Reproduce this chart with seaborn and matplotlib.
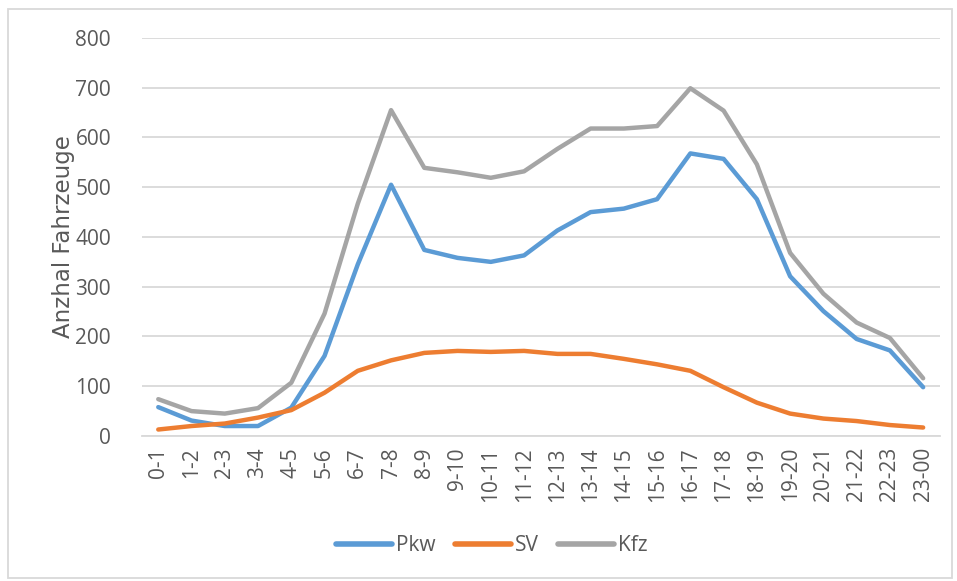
import pandas as pd
import seaborn as sns
import matplotlib.pyplot as plt
from matplotlib.patches import Rectangle

hours = ["0-1", "1-2", "2-3", "3-4", "4-5", "5-6", "6-7", "7-8", "8-9", "9-10",
         "10-11", "11-12", "12-13", "13-14", "14-15", "15-16", "16-17", "17-18",
         "18-19", "19-20", "20-21", "21-22", "22-23", "23-00"]
pkw = [58, 31, 20, 20, 57, 161, 345, 505, 374, 358, 350, 363, 413, 450, 457, 476,
       568, 557, 476, 321, 251, 195, 172, 98]
sv = [13, 20, 25, 37, 52, 87, 131, 152, 167, 171, 169, 171, 165, 165, 155, 144,
      131, 98, 67, 45, 35, 30, 22, 17]
kfz = [74, 50, 45, 56, 107, 246, 467, 655, 539, 530, 519, 532, 577, 618, 618, 623,
       699, 654, 546, 368, 286, 228, 197, 116]

df = pd.DataFrame({"pos": range(len(hours)), "Pkw": pkw, "SV": sv, "Kfz": kfz})
long = df.melt(id_vars="pos", var_name="Serie", value_name="Anzahl")

sns.set_style("white")
plt.rcParams["font.family"] = ["Open Sans", "DejaVu Sans"]

fig = plt.figure(figsize=(9.57, 5.81), dpi=100)
ax = fig.add_axes([0.148, 0.2496, 0.834, 0.685])

palette = {"Pkw": "#5B9BD5", "SV": "#ED7D31", "Kfz": "#A5A5A5"}
sns.lineplot(data=long, x="pos", y="Anzahl", hue="Serie", palette=palette,
             linewidth=3.2, ax=ax, legend=True)
for line in ax.get_lines():
    line.set_solid_capstyle("round")
    line.set_solid_joinstyle("round")

ax.set_xlim(-0.5, len(hours) - 0.5)
ax.set_ylim(0, 800)
ax.set_yticks(range(0, 801, 100))
ax.set_xticks(range(len(hours)))
ax.set_xticklabels(hours, rotation=90)
ax.tick_params(axis="both", colors="#595959", labelsize=15, length=0)
ax.tick_params(axis="y", pad=22)
ax.tick_params(axis="x", pad=8)
ax.yaxis.grid(True, color="#D9D9D9", linewidth=1.3)
ax.set_axisbelow(True)
for s in ["top", "right", "left"]:
    ax.spines[s].set_visible(False)
ax.spines["bottom"].set_color("#D9D9D9")
ax.spines["bottom"].set_linewidth(1.3)

ax.set_xlabel("")
ax.set_ylabel("Anzhal Fahrzeuge", color="#595959", fontsize=16.5,
              family="DejaVu Sans", labelpad=0)

handles, labels = ax.get_legend_handles_labels()
leg = ax.legend(handles, labels, loc="center", bbox_to_anchor=(0.514, 0.061),
                bbox_transform=fig.transFigure, ncol=3, frameon=False,
                fontsize=15, handlelength=2.7, handletextpad=0.2,
                columnspacing=0.9, labelcolor="#595959")
for h in leg.get_lines():
    h.set_linewidth(4)
    h.set_solid_capstyle("round")

fig.patches.append(Rectangle((8 / 957, 3 / 581), 944 / 957, 569 / 581,
                             transform=fig.transFigure, fill=False,
                             edgecolor="#D9D9D9", linewidth=1.3))

fig.savefig("out.png", dpi=100)
